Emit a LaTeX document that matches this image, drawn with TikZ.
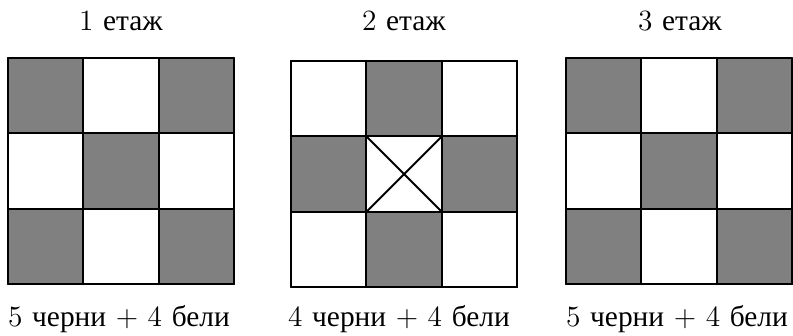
\documentclass[tikz,border=0pt]{standalone}
\usepackage{fontspec}
\newfontfamily\cyrfont{Liberation Serif}
\definecolor{cellgray}{HTML}{808080}
\begin{document}
\begin{tikzpicture}[x=0.5pt,y=-0.5pt,
  gridline/.style={line width=1pt, line cap=round},
  txt/.style={font=\fontsize{14.7}{17}\selectfont, inner sep=0pt, anchor=base}]
\useasboundingbox (0,0) rectangle (793,336);
% one 3x3 floor: origin, cell size, dark cells
\newcommand\floorgrid[3]{%
  \begin{scope}[shift={#1}]
    \foreach \c/\r in {#3}
      \fill[cellgray] ({\c*#2},{\r*#2}) rectangle ++(#2,#2);
    \foreach \i in {0,1,2,3} {
      \draw[gridline] ({\i*#2},0) -- ({\i*#2},{3*#2});
      \draw[gridline] (0,{\i*#2}) -- ({3*#2},{\i*#2});
    }
  \end{scope}}
% floor 1
\floorgrid{(8,58)}{75.4}{0/0,2/0,1/1,0/2,2/2}
% floor 2, with the crossed empty centre
\floorgrid{(291,61)}{75.4}{1/0,0/1,2/1,1/2}
\begin{scope}[shift={(291,61)}]
  \coordinate (ca) at (75.4,75.4);
  \coordinate (cb) at (150.8,150.8);
  \coordinate (cc) at (150.8,75.4);
  \coordinate (cd) at (75.4,150.8);
  \draw[gridline] (ca) -- (cb) (cc) -- (cd);
\end{scope}
% floor 3
\floorgrid{(566,58)}{75.4}{0/0,2/0,1/1,0/2,2/2}
% titles
\node[txt] (h1) at (121,31) {1 {\cyrfont етаж}};
\node[txt] (h2) at (404,31) {2 {\cyrfont етаж}};
\node[txt] (h3) at (680,31) {3 {\cyrfont етаж}};
% counts
\node[txt] (c1) at (119,327) {5 {\cyrfont черни} + 4 {\cyrfont бели}};
\node[txt] (c2) at (399,327) {4 {\cyrfont черни} + 4 {\cyrfont бели}};
\node[txt] (c3) at (677,327) {5 {\cyrfont черни} + 4 {\cyrfont бели}};
\end{tikzpicture}
\end{document}
